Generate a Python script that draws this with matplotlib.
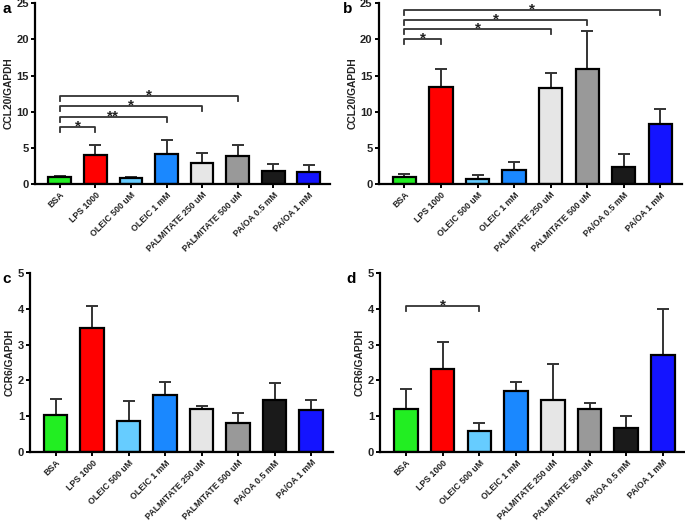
import numpy as np
import matplotlib
matplotlib.use("Agg")
import matplotlib.pyplot as plt

plt.rcParams['font.family'] = ['Liberation Sans', 'DejaVu Sans']
plt.rcParams['font.weight'] = 'bold'

groups = ["BSA", "LPS 1000", "OLEIC 500 uM", "OLEIC 1 mM", "PALMITATE 250 uM",
          "PALMITATE 500 uM", "PA/OA 0.5 mM", "PA/OA 1 mM"]
colors = ["#22ee22", "#ff0000", "#66ccff", "#1a88ff", "#e6e6e6",
          "#999999", "#1a1a1a", "#1414ff"]

# panel a: CCL20 (first data set)
ccl20_a = [1.0, 3.97, 0.9, 4.2, 2.9, 3.95, 1.75, 1.7]
ccl20_a_err = [0.15, 1.5, 0.12, 1.9, 1.4, 1.5, 1.0, 0.88]
# panel b: CCL20 (second data set)
ccl20_b = [1.03, 13.45, 0.7, 1.96, 13.25, 15.85, 2.35, 8.27]
ccl20_b_err = [0.32, 2.45, 0.56, 1.05, 2.1, 5.35, 1.8, 2.05]
# panel c: CCR6 (first data set)
ccr6_c = [1.02, 3.45, 0.86, 1.59, 1.2, 0.81, 1.45, 1.17]
ccr6_c_err = [0.45, 0.62, 0.55, 0.37, 0.07, 0.28, 0.48, 0.29]
# panel d: CCR6 (second data set)
ccr6_d = [1.21, 2.31, 0.57, 1.71, 1.45, 1.2, 0.67, 2.7]
ccr6_d_err = [0.56, 0.76, 0.24, 0.24, 1.0, 0.17, 0.34, 1.3]

# significance brackets: (from, to, height, label)
sig_a = [(0, 1, 7.9, "*"), (0, 3, 9.3, "**"), (0, 4, 10.8, "*"), (0, 5, 12.2, "*")]
sig_b = [(0, 1, 20.0, "*"), (0, 4, 21.4, "*"), (0, 5, 22.7, "*"), (0, 7, 24.1, "*")]
sig_d = [(0, 2, 4.08, "*")]

# letter, axes rect, letter x, data, errors, ylabel, ymax, ystep, brackets, bracket drop
panels = [
    ("a", [0.051, 0.648, 0.431, 0.346], 0.004, ccl20_a, ccl20_a_err, "CCL20/GAPDH", 25, 5, sig_a, 0.7),
    ("b", [0.553, 0.648, 0.443, 0.346], 0.500, ccl20_b, ccl20_b_err, "CCL20/GAPDH", 25, 5, sig_b, 0.7),
    ("c", [0.044, 0.136, 0.442, 0.342], 0.004, ccr6_c, ccr6_c_err, "CCR6/GAPDH", 5, 1, [], 0.15),
    ("d", [0.555, 0.136, 0.445, 0.342], 0.506, ccr6_d, ccr6_d_err, "CCR6/GAPDH", 5, 1, sig_d, 0.15),
]

fig = plt.figure(figsize=(6.85, 5.23), dpi=100)
x = np.arange(len(groups))

for letter, rect, lx, vals, errs, ylab, ymax, ystep, sigs, drop in panels:
    ax = fig.add_axes(rect)
    ax.bar(x, vals, width=0.64, color=colors, edgecolor="black", linewidth=1.6, zorder=2)
    ax.errorbar(x, vals, yerr=[np.zeros(len(vals)), errs], fmt="none",
                ecolor="#333333", elinewidth=1.4, capsize=4, capthick=1.4, zorder=1)
    ax.set_xlim(-0.7, 7.6)
    ax.set_ylim(0, ymax)
    ax.set_yticks(np.arange(0, ymax + 0.01, ystep))
    ax.set_xticks(x)
    ax.set_xticklabels(groups, rotation=45, ha="right", rotation_mode="anchor",
                       fontsize=6.3, fontweight="bold", color="#222222")
    for lab in ax.get_yticklabels():
        lab.set_fontsize(8)
        lab.set_fontweight("bold")
        lab.set_color("#222222")
    ax.set_ylabel(ylab, fontsize=7.4, fontweight="bold", labelpad=2, color="#222222")
    for s in ["top", "right"]:
        ax.spines[s].set_visible(False)
    for s in ["left", "bottom"]:
        ax.spines[s].set_linewidth(1.6)
    ax.tick_params(axis="both", width=1.4, length=3, pad=1.5)
    for i0, i1, h, txt in sigs:
        ax.plot([i0, i0, i1, i1], [h - drop, h, h, h - drop], color="#333333",
                lw=1.3, clip_on=False, zorder=3)
        ax.text((i0 + i1) / 2, h - 0.035 * ymax, txt, ha="center", va="bottom",
                fontsize=11, fontweight="bold", color="#222222")
    fig.text(lx, rect[1] + rect[3] + 0.002, letter, fontsize=11,
             fontweight="bold", va="top", ha="left")

fig.savefig("out.png", dpi=100)
